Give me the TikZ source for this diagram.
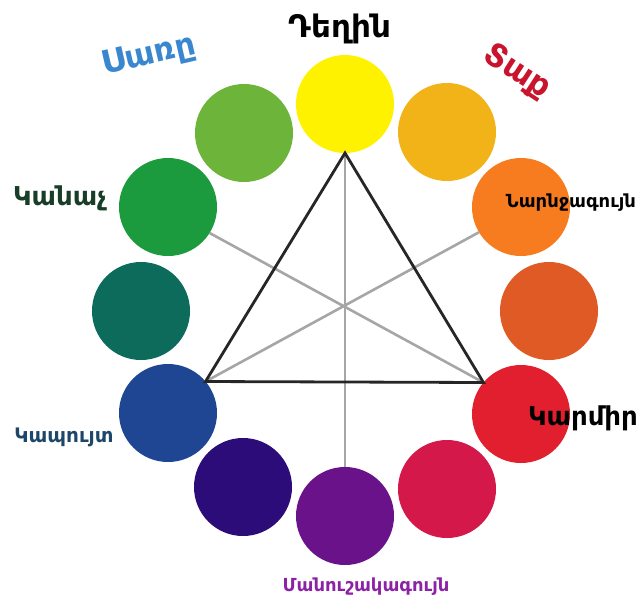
\documentclass[tikz,border=0pt]{standalone}
\usepackage{fontspec}
\setmainfont{DejaVu Sans}
\begin{document}
\begin{tikzpicture}[x=1pt,y=-1pt,
  dot/.style={circle,minimum size=98pt,inner sep=0pt,outer sep=0pt},
  tri/.style={draw=black!85,line width=2.8pt},
  gray line/.style={draw=black!35,line width=2.6pt},
  lab/.style={inner sep=0pt,anchor=base}]
\definecolor{cYel}{HTML}{FFF200}
\definecolor{cLGr}{HTML}{6DB43A}
\definecolor{cGr}{HTML}{1B9A3E}
\definecolor{cTeal}{HTML}{0C6B5B}
\definecolor{cBlue}{HTML}{1F4693}
\definecolor{cInd}{HTML}{2C0C78}
\definecolor{cPur}{HTML}{6A1289}
\definecolor{cMag}{HTML}{D4184A}
\definecolor{cRed}{HTML}{E21F2E}
\definecolor{cOrR}{HTML}{E05A26}
\definecolor{cOr}{HTML}{F67C1F}
\definecolor{cOrY}{HTML}{F2B318}
\definecolor{tBlue}{RGB}{58,135,208}
\definecolor{tRed}{RGB}{200,20,45}
\definecolor{tGreen}{RGB}{25,62,40}
\definecolor{tNavy}{RGB}{30,70,105}
\definecolor{tPurple}{RGB}{140,35,165}
\useasboundingbox[fill=white] (0,0) rectangle (640,600);
\node[dot,fill=cYel] (yel) at (345,104) {};
\node[dot,fill=cLGr] (lgr) at (244,133) {};
\node[dot,fill=cOrY] (ory) at (447,132) {};
\node[dot,fill=cGr] (gr) at (168,207) {};
\node[dot,fill=cOr] (or) at (521,207) {};
\node[dot,fill=cTeal] (teal) at (141,311) {};
\node[dot,fill=cOrR] (orr) at (549,311) {};
\node[dot,fill=cBlue] (blue) at (168,413) {};
\node[dot,fill=cRed] (red) at (521,414) {};
\node[dot,fill=cInd] (ind) at (243,487) {};
\node[dot,fill=cMag] (mag) at (447,489) {};
\node[dot,fill=cPur] (pur) at (345,516) {};
% gray lines
\draw[gray line] (yel.south) -- (pur.north);
\draw[gray line] (gr.-32) -- (red.140);
\draw[gray line] (or.-149) -- (blue.40);
% triangle
\draw[tri,line join=miter] (yel.south) -- (blue.40) -- (red.140) -- cycle;
% labels
\node[lab,font=\bfseries\fontsize{31}{33}\selectfont] (tDeghin) at (340,37) {Դեղին};
\node[lab,anchor=center,text=tBlue,rotate=13,font=\bfseries\fontsize{32}{34}\selectfont] (tSarr) at (149,56) {Սառը};
\node[lab,anchor=center,text=tRed,rotate=-33,font=\bfseries\fontsize{32}{34}\selectfont] (tTak) at (517,72) {Տաք};
\node[lab,text=tGreen,font=\bfseries\fontsize{26}{28}\selectfont] (tKanach) at (60,205) {Կանաչ};
\node[lab,font=\bfseries\fontsize{18}{20}\selectfont] (tNarn) at (571,207) {Նարնջագույն};
\node[lab,text=tNavy,font=\bfseries\fontsize{20}{22}\selectfont] (tKap) at (64,442) {Կապույտ};
\node[lab,font=\bfseries\fontsize{26}{28}\selectfont] (tKarm) at (583,425) {Կարմիր};
\node[lab,text=tPurple,font=\bfseries\fontsize{18}{20}\selectfont] (tMan) at (366,591) {Մանուշակագույն};
\end{tikzpicture}
\end{document}
